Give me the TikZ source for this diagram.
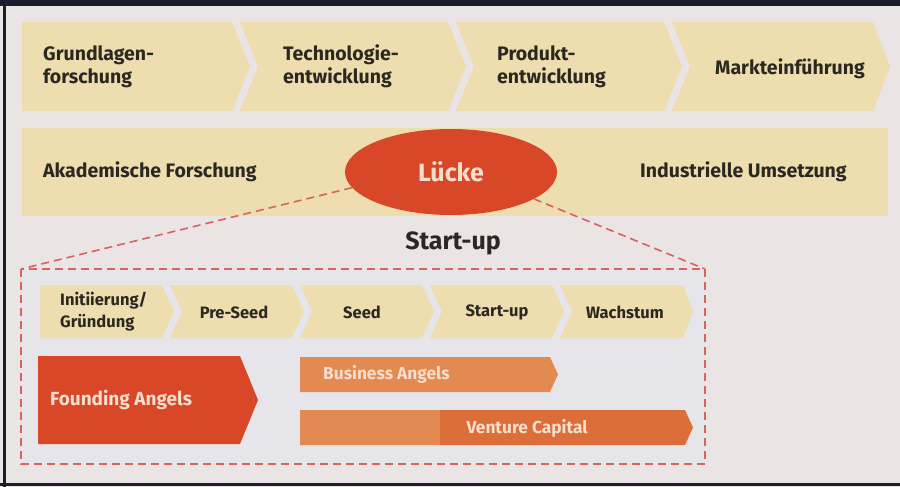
\documentclass[tikz,border=0pt]{standalone}
\usepackage{fontspec}
\setmainfont{Fira Sans}
\usetikzlibrary{shapes.geometric}

\definecolor{paper}{RGB}{234,228,229}
\definecolor{boxtint}{RGB}{230,229,234}
\definecolor{sand}{RGB}{237,221,175}
\definecolor{brick}{RGB}{216,72,40}
\definecolor{amber}{RGB}{226,138,82}
\definecolor{amberdark}{RGB}{220,110,58}
\definecolor{ink}{RGB}{42,40,32}
\definecolor{blush}{RGB}{248,222,204}
\definecolor{dashred}{RGB}{214,100,92}
\definecolor{frame}{RGB}{26,30,44}

% arrow-shaped step: #1 fill, #2 left x, #3 right x (before tip), #4 top y, #5 bottom y, #6 tip depth, #7 notch depth
\newcommand{\arrowstep}[7]{%
  \fill[#1] (#2,#4) -- (#3,#4) -- ({#3+#6},{(#4+#5)/2}) -- (#3,#5)
    -- (#2,#5) -- ({#2+#7},{(#4+#5)/2}) -- cycle;}

\tikzset{
  bigtxt/.style={font=\bfseries\fontsize{19.5}{23}\selectfont, text=ink, inner sep=0pt, align=left},
  smalltxt/.style={font=\bfseries\fontsize{16.5}{22}\selectfont, text=ink, inner sep=0pt, align=left},
  bartxt/.style={font=\bfseries\fontsize{17.3}{20}\selectfont, text=blush, inner sep=0pt},
  headtxt/.style={font=\bfseries\fontsize{25}{29}\selectfont, inner sep=0pt},
  zoomline/.style={draw=dashred, line width=1.6pt, dash pattern=on 8pt off 5pt},
}

\begin{document}
\begin{tikzpicture}[x=1pt, y=-1pt]
\useasboundingbox (0,0) rectangle (900,487);
\fill[paper] (0,0) rectangle (900,487);

% page frame
\fill[frame] (0,0) rectangle (900,6.5);
\fill[frame] (3,0) rectangle (5.5,487);
\fill[frame] (0,483) rectangle (900,485.5);

% innovation chain
\arrowstep{sand}{22}{232}{22}{111}{18}{0}
\arrowstep{sand}{240}{448}{22}{111}{18}{18}
\arrowstep{sand}{456}{664}{22}{111}{18}{18}
\arrowstep{sand}{672}{873}{22}{111}{17}{18}
\node[bigtxt, anchor=west] (grund) at (43,66.5) {Grundlagen-\\forschung};
\node[bigtxt, anchor=west] (tech) at (283,66.5) {Technologie-\\entwicklung};
\node[bigtxt, anchor=west] (prod) at (497,66.5) {Produkt-\\entwicklung};
\node[bigtxt, anchor=west] (markt) at (715,69) {Markteinführung};

% research vs. industry band
\fill[sand] (22,128) rectangle (888,216);
\node[bigtxt, anchor=west] (akad) at (43,172) {Akademische Forschung};
\node[bigtxt, anchor=west] (indu) at (640,172) {Industrielle Umsetzung};

% start-up detail box
\coordinate (boxNW) at (21,269);
\coordinate (boxNE) at (705,269);
\coordinate (boxSE) at (705,464);
\fill[boxtint] (boxNW) rectangle (boxSE);

% the gap
\node[ellipse, fill=brick, minimum width=212pt, minimum height=86pt, inner sep=0pt,
      headtxt, text=blush] (gap) at (451,172) {Lücke};
\node[headtxt, text=ink] (startup) at (453,243) {Start-up};

\draw[zoomline] (gap.189) -- (boxNW);
\draw[zoomline] (gap.342) -- (boxNE);
\draw[zoomline] (boxNW) rectangle (boxSE);

% start-up phases
\arrowstep{sand}{40}{162}{285}{338}{12}{0}
\arrowstep{sand}{170}{292}{285}{338}{12}{12}
\arrowstep{sand}{300}{422}{285}{338}{12}{12}
\arrowstep{sand}{430}{552}{285}{338}{12}{12}
\arrowstep{sand}{560}{683}{285}{338}{10}{12}
\node[smalltxt, anchor=west] (init) at (60,311.5) {Initiierung/\\Gründung};
\node[smalltxt] (preseed) at (234,312) {Pre-Seed};
\node[smalltxt] (seed) at (362,312) {Seed};
\node[smalltxt] (phstart) at (497,312) {Start-up};
\node[smalltxt] (wachs) at (625,312) {Wachstum};

% financing sources
\arrowstep{brick}{38}{240}{356}{444}{18}{0}
\node[bartxt, anchor=west, font=\bfseries\fontsize{19}{22}\selectfont] (found) at (50,400) {Founding Angels};

\arrowstep{amber}{300}{550}{357}{392}{8}{0}
\node[bartxt, anchor=west] (business) at (323,374.5) {Business Angels};

\arrowstep{amberdark}{300}{685}{410}{445}{8}{0}
\fill[amber] (300,410) rectangle (440,445);
\node[bartxt] (venture) at (527,428) {Venture Capital};
\end{tikzpicture}
\end{document}
